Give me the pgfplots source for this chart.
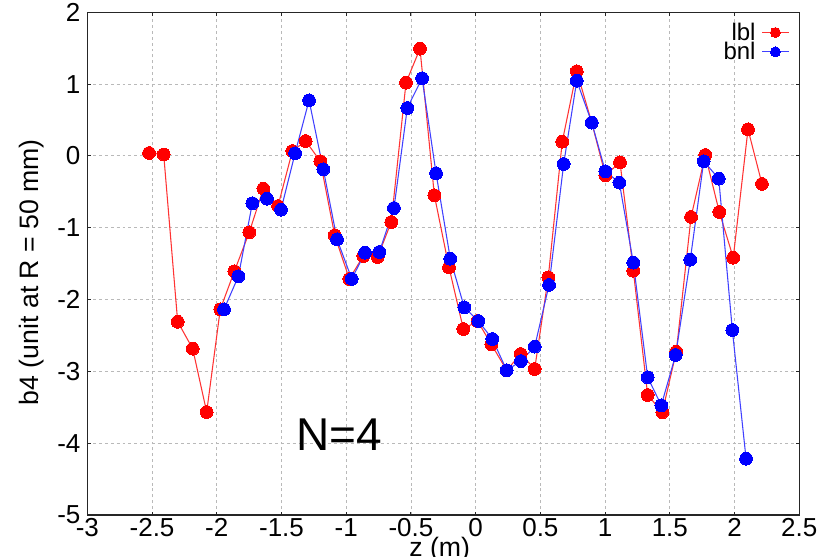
\documentclass[border=0pt]{standalone}
\usepackage{fontspec}
\setmainfont{Liberation Sans}
\usepackage{pgfplots}
\pgfplotsset{compat=1.18}

% b4 harmonic along z, two measurement sets
\pgfplotstableread{
z b4
-2.523 0.04
-2.410 0.02
-2.302 -2.31
-2.186 -2.685
-2.078 -3.567
-1.973 -2.137
-1.864 -1.607
-1.749 -1.064
-1.640 -0.457
-1.527 -0.698
-1.416 0.068
-1.313 0.207
-1.200 -0.075
-1.089 -1.106
-0.976 -1.714
-0.868 -1.394
-0.757 -1.408
-0.652 -0.921
-0.538 1.02
-0.430 1.493
-0.319 -0.549
-0.206 -1.552
-0.095 -2.411
0.015 -2.30
0.121 -2.624
0.240 -2.986
0.348 -2.759
0.456 -2.968
0.561 -1.691
0.669 0.198
0.781 1.178
0.897 0.463
1.002 -0.27
1.115 -0.089
1.218 -1.599
1.329 -3.33
1.442 -3.571
1.550 -2.727
1.664 -0.851
1.774 0.013
1.882 -0.781
1.990 -1.418
2.104 0.37
2.212 -0.391
}\lbldata

\pgfplotstableread{
z b4
-1.944 -2.137
-1.833 -1.677
-1.725 -0.66
-1.612 -0.596
-1.504 -0.749
-1.395 0.036
-1.287 0.774
-1.177 -0.187
-1.071 -1.162
-0.957 -1.714
-0.855 -1.348
-0.744 -1.338
-0.631 -0.726
-0.528 0.667
-0.414 1.081
-0.306 -0.242
-0.196 -1.432
-0.088 -2.109
0.021 -2.30
0.129 -2.55
0.240 -2.986
0.350 -2.857
0.456 -2.657
0.567 -1.798
0.680 -0.113
0.781 1.047
0.897 0.463
1.002 -0.214
1.110 -0.373
1.218 -1.487
1.329 -3.084
1.434 -3.474
1.545 -2.773
1.658 -1.446
1.762 -0.075
1.878 -0.317
1.983 -2.425
2.089 -4.217
}\bnldata

\begin{document}
\begin{tikzpicture}
\begin{axis}[
  scale only axis,
  width=534pt, height=377pt,
  xmin=-3, xmax=2.5, ymin=-5, ymax=2,
  xtick={-3,-2.5,...,2.5},
  ytick={-5,-4,...,2},
  /pgf/number format/assume math mode=true,
  tick label style={font=\fontsize{19.5}{22}\selectfont},
  xticklabel style={inner sep=0pt, yshift=-2.6pt},
  yticklabel style={inner sep=0pt, xshift=-5pt},
  tick align=inside,
  major tick length=2.5pt,
  axis line style={line width=1.1pt, black!85},
  every tick/.style={black!85, line width=0.8pt},
  grid=major,
  major grid style={gray!55, line width=0.6pt, dash pattern=on 2.2pt off 2.2pt},
  xlabel={z (m)},
  ylabel={b4 (unit at R = 50 mm)},
  label style={font=\fontsize{20}{24}\selectfont},
  xlabel style={at={(axis description cs:0.495,-0.044)}, anchor=north, inner sep=0pt},
  ylabel style={at={(axis description cs:-0.0787,0.483)}, anchor=center, inner sep=0pt},
  legend style={draw=none, fill=none, inner sep=0pt, outer sep=0pt,
    at={(axis description cs:0.986,0.979)}, anchor=north east,
    row sep=0pt, column sep=4.5pt,
    nodes={inner sep=0pt, font=\fontsize{18}{18}\selectfont}},
  legend cell align=right,
  legend plot pos=right,
  legend image code/.code={\draw[mark repeat=2,mark phase=2,#1,mark size=3.75pt]
    plot coordinates {(0pt,0pt) (10pt,0pt) (20pt,0pt)};},
]
\addplot[color=red!80, line width=0.8pt, mark=*, mark size=4.8pt,
  mark options={fill=red, draw=red, line width=0pt}] table[x=z, y=b4] {\lbldata};
\addlegendentry{lbl}
\addplot[color=blue!75, line width=0.8pt, mark=*, mark size=4.8pt,
  mark options={fill=blue, draw=blue, line width=0pt}] table[x=z, y=b4] {\bnldata};
\addlegendentry{bnl}
\node[font=\fontsize{34.5}{40}\selectfont] at (axis cs:-1.056,-3.887) {N=4};
\end{axis}
\pgfresetboundingbox
\path (-65.5pt,-31.5pt) rectangle (547.3pt,386.2pt);
\end{tikzpicture}
\end{document}
